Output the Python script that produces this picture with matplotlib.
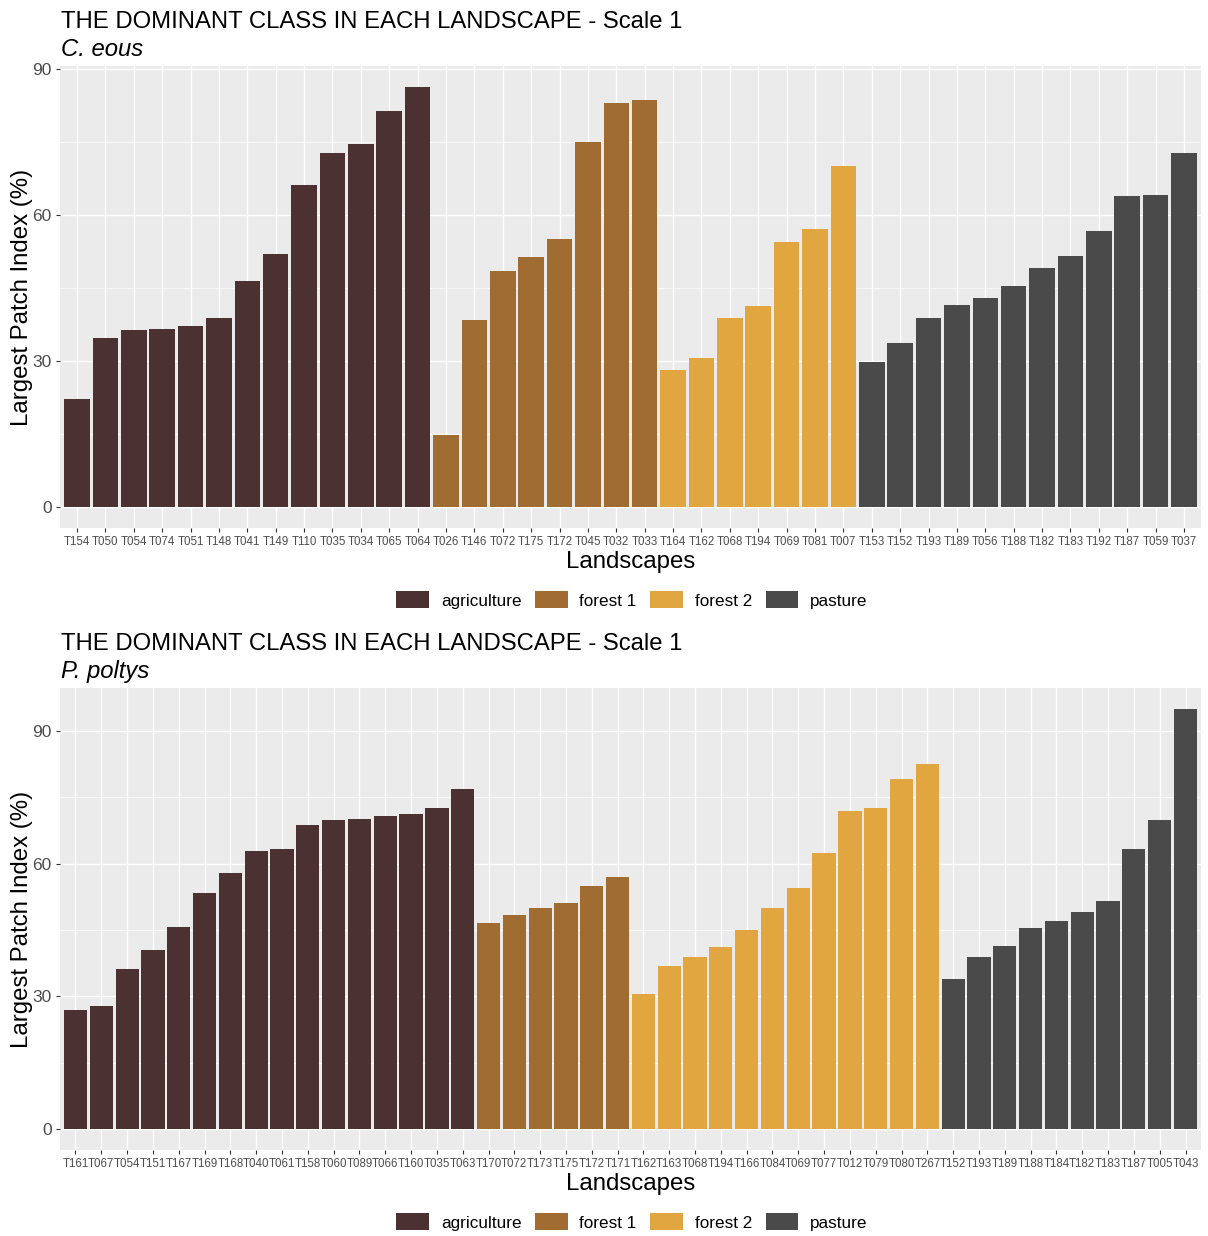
import numpy as np
import matplotlib.pyplot as plt
from matplotlib.patches import Patch

plt.rcParams['font.family'] = ['Liberation Sans', 'DejaVu Sans']

# classes and colours
classes = ['agriculture', 'forest 1', 'forest 2', 'pasture']
colours = ['#4B3132', '#A06C32', '#E2A640', '#4A4A4A']

# C. eous
ceous_labels = ['T154', 'T050', 'T054', 'T074', 'T051', 'T148', 'T041', 'T149', 'T110', 'T035', 'T034', 'T065', 'T064',
                'T026', 'T146', 'T072', 'T175', 'T172', 'T045', 'T032', 'T033',
                'T164', 'T162', 'T068', 'T194', 'T069', 'T081', 'T007',
                'T153', 'T152', 'T193', 'T189', 'T056', 'T188', 'T182', 'T183', 'T192', 'T187', 'T059', 'T037']
ceous_lpi = [22.2, 34.7, 36.4, 36.6, 37.2, 38.8, 46.4, 52.0, 66.2, 72.7, 74.6, 81.4, 86.3,
             14.8, 38.4, 48.5, 51.4, 55.1, 75.0, 83.0, 83.6,
             28.1, 30.6, 38.8, 41.3, 54.4, 57.1, 70.1,
             29.8, 33.7, 38.8, 41.5, 42.9, 45.4, 49.1, 51.6, 56.7, 63.9, 64.1, 72.7]
ceous_class = [0] * 13 + [1] * 8 + [2] * 7 + [3] * 12

# P. poltys
ppoltys_labels = ['T161', 'T067', 'T054', 'T151', 'T167', 'T169', 'T168', 'T040', 'T061', 'T158', 'T060', 'T089', 'T066', 'T160', 'T035', 'T063',
                  'T170', 'T072', 'T173', 'T175', 'T172', 'T171',
                  'T162', 'T163', 'T068', 'T194', 'T166', 'T084', 'T069', 'T077', 'T012', 'T079', 'T080', 'T267',
                  'T152', 'T193', 'T189', 'T188', 'T184', 'T182', 'T183', 'T187', 'T005', 'T043']
ppoltys_lpi = [26.9, 27.8, 36.3, 40.6, 45.6, 53.3, 57.8, 62.8, 63.4, 68.8, 69.8, 70.2, 70.9, 71.3, 72.7, 77.0,
               46.5, 48.5, 50.1, 51.2, 54.9, 56.9,
               30.5, 36.8, 38.8, 41.1, 44.9, 49.9, 54.4, 62.5, 72.0, 72.5, 79.2, 82.6,
               33.9, 38.8, 41.5, 45.4, 47.0, 49.0, 51.5, 63.4, 70.0, 95.0]
ppoltys_class = [0] * 16 + [1] * 6 + [2] * 12 + [3] * 10

W, H = 1208, 1236
fig = plt.figure(figsize=(W / 100, H / 100), dpi=100)


def px(x0, y0, x1, y1):
    return [x0 / W, 1 - y1 / H, (x1 - x0) / W, (y1 - y0) / H]


def panel(top, labels, vals, cls, species, tick_fs):
    ax = fig.add_axes(px(60, top + 66, 1201, top + 528))
    n = len(labels)
    x = np.arange(n)
    ax.bar(x, vals, width=0.9, color=[colours[c] for c in cls], zorder=3)
    ymax = max(vals)
    ax.set_xlim(-0.6, n - 0.4)
    ax.set_ylim(-0.05 * ymax, ymax * 1.05)
    ax.set_facecolor('#EBEBEB')
    for s in ax.spines.values():
        s.set_visible(False)
    ax.set_xticks(x)
    ax.set_xticklabels(labels, fontsize=tick_fs, color='#4D4D4D')
    ax.set_yticks([0, 30, 60, 90])
    ax.set_yticks([15, 45, 75], minor=True)
    ax.tick_params(axis='y', labelsize=12.5, colors='#4D4D4D', length=3, color='#333333', pad=3)
    ax.tick_params(axis='y', which='minor', length=0)
    ax.tick_params(axis='x', length=3, color='#333333', pad=3)
    ax.tick_params(axis='y', labelcolor='#4D4D4D')
    ax.grid(which='major', color='white', linewidth=1.0, zorder=0)
    ax.grid(which='minor', axis='y', color='white', linewidth=0.5, zorder=0)
    ax.set_axisbelow(True)
    ax.set_xlabel('Landscapes', fontsize=17.3, labelpad=2)
    ax.set_ylabel('Largest Patch Index (%)', fontsize=17.3)
    ax.yaxis.set_label_coords((33 - 60) / 1141, 0.5)
    fig.text(61 / W, 1 - (top + 28) / H, 'THE DOMINANT CLASS IN EACH LANDSCAPE - Scale 1',
             fontsize=17.2, ha='left', va='baseline')
    fig.text(61 / W, 1 - (top + 56) / H, species, fontsize=17.2, style='italic',
             ha='left', va='baseline')
    handles = [Patch(facecolor=c, label=k) for c, k in zip(colours, classes)]
    fig.legend(handles=handles, loc='center', bbox_to_anchor=(632 / W, 1 - (top + 600) / H),
               ncol=4, frameon=False, fontsize=12.3, handlelength=1.9, handleheight=1.15,
               columnspacing=0.8, handletextpad=0.7)
    return ax


panel(0, ceous_labels, ceous_lpi, ceous_class, 'C. eous', 8.3)
panel(622, ppoltys_labels, ppoltys_lpi, ppoltys_class, 'P. poltys', 8.3)

plt.savefig('out.png', dpi=100)
